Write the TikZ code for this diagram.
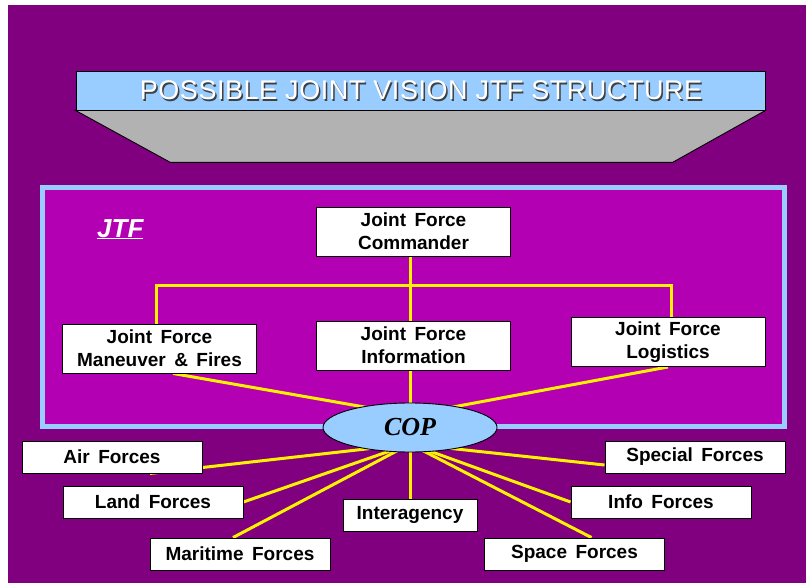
\documentclass[tikz,border=0pt]{standalone}
\usepackage{fontspec}
\setmainfont{Liberation Sans}
\newfontfamily\copfont{Liberation Serif}
\newfontfamily\boxfont[WordSpace=1.6]{Liberation Sans}
\newfontfamily\titlefont[LetterSpace=2]{Liberation Sans}
\usetikzlibrary{shapes,positioning,backgrounds}

\definecolor{bgpurple}{RGB}{128,0,128}
\definecolor{jtfpurple}{RGB}{178,0,178}
\definecolor{skyblue}{RGB}{153,204,255}
\definecolor{panelgray}{RGB}{178,178,178}

\begin{document}
\begin{tikzpicture}[
    x=1pt, y=-1pt,
    box/.style={rectangle,draw,line width=0.9pt,fill=white,minimum width=194pt,minimum height=49pt,inner sep=0pt,align=center,
                font=\boxfont\fontsize{19}{23}\selectfont\bfseries},
    force/.style={box,minimum width=180pt,minimum height=32pt},
    banner/.style={rectangle,draw,line width=0.9pt,fill=skyblue,minimum width=689pt,minimum height=39pt},
    titletext/.style={inner sep=0pt,font=\titlefont\fontsize{27}{32}\selectfont},
    link/.style={yellow,line width=3pt}
]
\useasboundingbox (0,0) rectangle (806,583);

% Title banner
\node[banner] (banner) at (420.5,90.5) {};
\node[titletext, text=black!75] (titleshadow) at (422.5,92) {POSSIBLE JOINT VISION JTF STRUCTURE};
\node[titletext, text=white] (title) at (421,90.5) {POSSIBLE JOINT VISION JTF STRUCTURE};

% JTF label
\node[anchor=base west, inner sep=0pt, text=white, font=\fontsize{26}{30}\selectfont\bfseries\itshape] (jtf) at (97,237) {\underline{JTF}};

% Joint force elements
\node[box] (cmdr) at (413.5,231.5) {Joint Force\\Commander};
\node[box] (maneuver) at (159.5,348.5) {Joint Force\\Maneuver \& Fires};
\node[box] (info) at (413.5,345.5) {Joint Force\\Information};
\node[box] (logistics) at (668,342) {Joint Force\\Logistics};

% Common operational picture
\node[ellipse, draw, line width=0.9pt, fill=skyblue, minimum width=174pt, minimum height=49pt, inner sep=0pt,
      font=\copfont\fontsize{26}{30}\selectfont\bfseries\itshape] (cop) at (410,427.5) {COP};

% Forces
\node[force] (air) at (112,457) {Air Forces};
\node[force] (land) at (153,502) {Land Forces};
\node[force] (maritime) at (240,554) {Maritime Forces};
\node[force, minimum width=134pt] (inter) at (410,515) {Interagency};
\node[force] (special) at (695,457) {Special Forces};
\node[force] (infof) at (661,502) {Info Forces};
\node[force] (space) at (574.5,554) {Space Forces};

\begin{scope}[on background layer]
% Backdrop and frame
\fill[bgpurple] (8,5) rectangle (806,583);
\draw[line width=0.9pt, fill=panelgray] (banner.south west) -- (banner.south east) -- ++(-93,52) -- ++(-502,0) -- cycle;
\draw[skyblue, line width=5pt, fill=jtfpurple] (42.5,187.5) rectangle (784.5,426.5);

% Connections
\coordinate (hubtop) at (410,415);
\coordinate (hubbot) at (410,444);
\coordinate (busleft) at (156,285);
\coordinate (busright) at (671,285);
\draw[link] (inter.north) -- (inter.north |- cmdr.south);
\draw[link] (busleft |- maneuver.north) -- (busleft) -- (busright) -- (busright |- logistics.north);
\draw[link] ([xshift=13.5pt]maneuver.south) -- (hubtop);
\draw[link] (logistics.south) -- (hubtop);
\draw[link] ([xshift=38pt]air.south) -- (hubbot);
\draw[link] (land.east) -- (hubbot);
\draw[link] ([xshift=-7pt]maritime.north) -- (hubbot);
\draw[link] ([yshift=-8pt]special.west) -- (hubbot);
\draw[link] (infof.west) -- (hubbot);
\draw[link] ([xshift=17pt]space.north) -- (hubbot);
\end{scope}

\end{tikzpicture}
\end{document}
